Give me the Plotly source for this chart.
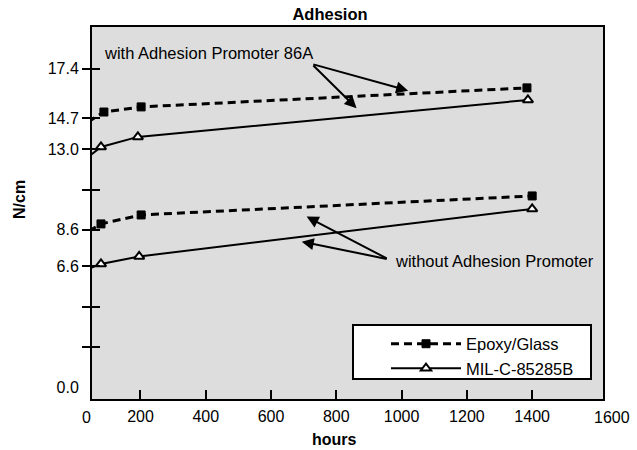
import plotly.graph_objects as go

# ---- data ----
hours_epoxy_with = [39, 88, 202, 1384]
ncm_epoxy_with = [14.50, 15.04, 15.32, 16.36]
hours_mil_with = [48, 79, 192, 1387]
ncm_mil_with = [12.69, 13.13, 13.68, 15.70]
hours_epoxy_without = [42, 79, 202, 1400]
ncm_epoxy_without = [8.53, 8.92, 9.41, 10.45]
hours_mil_without = [48, 79, 196, 1400]
ncm_mil_without = [6.51, 6.73, 7.14, 9.74]

x_tick_vals = [200, 400, 600, 800, 1000, 1200, 1400]
x_tick_text = ["200", "400", "600", "800", "1000", "1200", "1400"]
y_tick_vals = [0.0, 2.2, 4.4, 6.6, 8.6, 10.8, 13.0, 14.7, 17.4]
y_tick_text = ["0.0", "", "", "6.6", "8.6", "", "13.0", "14.7", "17.4"]

FONT = "Liberation Sans, Arial, Helvetica, sans-serif"
X_RANGE = [51.5, 1617]
Y_RANGE = [-0.656, 19.69]

dash_style = "8px,5px"
sq_marker = dict(symbol="square", size=8, color="black", line=dict(color="black", width=1))
tri_marker = dict(symbol="triangle-up", size=9, color="white", line=dict(color="black", width=2))

fig = go.Figure()
fig.add_trace(go.Scatter(x=hours_epoxy_with, y=ncm_epoxy_with, mode="lines+markers",
                         name="Epoxy/Glass", legendgroup="epoxy", cliponaxis=False,
                         line=dict(color="black", width=3, dash=dash_style), marker=sq_marker))
fig.add_trace(go.Scatter(x=hours_mil_with, y=ncm_mil_with, mode="lines+markers",
                         name="MIL-C-85285B", legendgroup="mil", cliponaxis=False,
                         line=dict(color="black", width=2), marker=tri_marker))
fig.add_trace(go.Scatter(x=hours_epoxy_without, y=ncm_epoxy_without, mode="lines+markers",
                         name="Epoxy/Glass", legendgroup="epoxy", showlegend=False,
                         cliponaxis=False,
                         line=dict(color="black", width=3, dash=dash_style), marker=sq_marker))
fig.add_trace(go.Scatter(x=hours_mil_without, y=ncm_mil_without, mode="lines+markers",
                         name="MIL-C-85285B", legendgroup="mil", showlegend=False,
                         cliponaxis=False,
                         line=dict(color="black", width=2), marker=tri_marker))
# empty helper traces so the overlay tick axes exist
fig.add_trace(go.Scatter(x=[], y=[], yaxis="y2", showlegend=False, hoverinfo="skip"))
fig.add_trace(go.Scatter(x=[], y=[], yaxis="y3", showlegend=False, hoverinfo="skip"))

arrow = dict(showarrow=True, arrowhead=2, arrowsize=1.2, arrowwidth=2, arrowcolor="black",
             axref="x", ayref="y", xref="x", yref="y", text="", standoff=0, startstandoff=0)
txt = dict(showarrow=False, xanchor="center", yanchor="middle")
annotations = [
    dict(x=1020, y=16.21, ax=725, ay=17.67, **arrow),
    dict(x=862, y=15.25, ax=725, ay=17.67, **arrow),
    dict(x=709, y=9.32, ax=959, ay=6.99, **arrow),
    dict(x=694, y=7.95, ax=959, ay=6.99, **arrow),
    dict(x=409, y=18.27, xref="x", yref="y", text="with Adhesion Promoter 86A",
         font=dict(size=16.5, color="black"), **txt),
    dict(x=1286, y=6.89, xref="x", yref="y", text="without Adhesion Promoter",
         font=dict(size=16.5, color="black"), **txt),
    dict(x=-0.0117, y=-0.0484, xref="paper", yref="paper", text="0",
         font=dict(size=16, color="black"), **txt),
    dict(x=1.0176, y=-0.0484, xref="paper", yref="paper", text="1600",
         font=dict(size=16, color="black"), **txt),
    dict(x=0.4755, y=-0.110, xref="paper", yref="paper", text="<b>hours</b>",
         font=dict(size=16, color="black"), **txt),
    dict(x=-0.143, y=0.5376, xref="paper", yref="paper", text="<b>N/cm</b>", textangle=-90,
         font=dict(size=16, color="black"), **txt),
]

fig.update_layout(
    width=637, height=450,
    margin=dict(l=92, r=34, t=27, b=51),
    paper_bgcolor="white", plot_bgcolor="#dddddd",
    font=dict(family=FONT, size=16, color="black"),
    hovermode=False,
    title=dict(text="<b>Adhesion</b>", x=330 / 637, xanchor="center", y=1 - 14.5 / 450,
               yanchor="middle", font=dict(size=16.5, color="black")),
    xaxis=dict(range=X_RANGE, tickvals=x_tick_vals, ticktext=x_tick_text, ticks="inside",
               ticklen=9, tickwidth=2, tickcolor="black", showline=True, linewidth=2,
               linecolor="black", mirror=True, showgrid=False, zeroline=False,
               ticklabelstandoff=2, tickfont=dict(size=16)),
    yaxis=dict(range=Y_RANGE, tickvals=y_tick_vals, ticktext=y_tick_text, ticks="",
               ticklabelstandoff=8, showline=True, linewidth=2, linecolor="black",
               mirror=True, showgrid=False, zeroline=False, tickfont=dict(size=16)),
    yaxis2=dict(range=Y_RANGE, overlaying="y", side="left", tickvals=y_tick_vals[1:],
                ticks="outside", ticklen=9, tickwidth=2, tickcolor="black",
                showticklabels=False, showgrid=False, zeroline=False, showline=False),
    yaxis3=dict(range=Y_RANGE, overlaying="y", side="left", tickvals=y_tick_vals[1:],
                ticks="inside", ticklen=8, tickwidth=2, tickcolor="black",
                showticklabels=False, showgrid=False, zeroline=False, showline=False),
    showlegend=True,
    legend=dict(x=(386 - 92) / 511, y=(399 - 326.5) / 372, xanchor="left", yanchor="top",
                bgcolor="rgba(0,0,0,0)", borderwidth=0, itemwidth=70,
                font=dict(size=16.5, color="black"), tracegroupgap=0),
    shapes=[dict(type="rect", xref="paper", yref="paper",
                 x0=(353 - 92) / 511, x1=(591 - 92) / 511,
                 y0=(399 - 379) / 372, y1=(399 - 325) / 372,
                 fillcolor="white", line=dict(color="black", width=2), layer="above")],
    annotations=annotations,
)

# remove the browser's default 8px page margin so the figure sits at the window's corner
fig.write_html("out.html", config={"displayModeBar": False},
               post_script="document.body.style.margin='0px';")
